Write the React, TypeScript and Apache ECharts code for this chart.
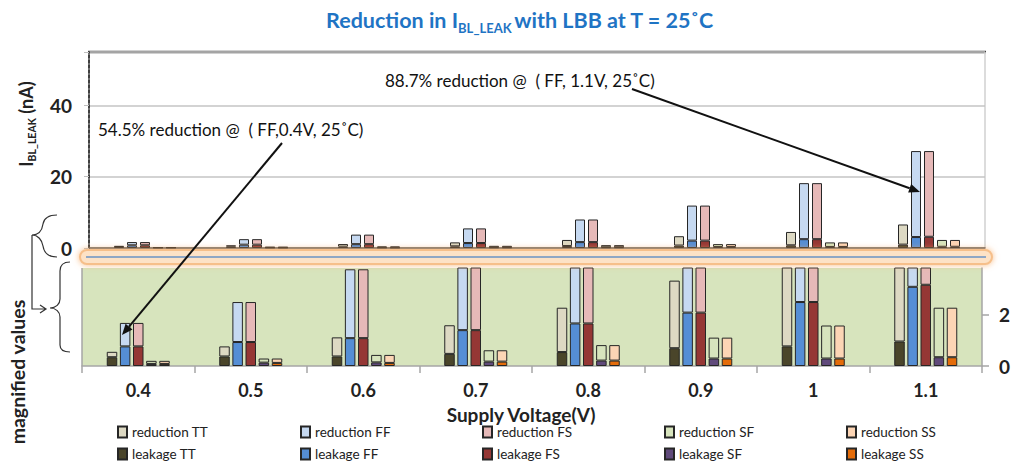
import React, { useEffect, useRef } from "react";
import * as echarts from "echarts";

// Supply voltages (x categories)
const VOLTAGES = ["0.4", "0.5", "0.6", "0.7", "0.8", "0.9", "1", "1.1"];
const CORNERS = ["TT", "FF", "FS", "SF", "SS"];

// Bit-line leakage remaining with LBB (nA)
const LEAKAGE_TT = [0.34, 0.37, 0.37, 0.47, 0.54, 0.69, 0.76, 0.95];
const LEAKAGE_FF = [0.76, 0.93, 1.08, 1.39, 1.65, 2.07, 2.48, 3.07];
const LEAKAGE_FS = [0.76, 0.93, 1.08, 1.39, 1.65, 2.07, 2.48, 3.15];
const LEAKAGE_SF = [0.08, 0.13, 0.14, 0.17, 0.21, 0.29, 0.29, 0.34];
const LEAKAGE_SS = [0.08, 0.12, 0.12, 0.17, 0.21, 0.29, 0.29, 0.34];

// Leakage removed by LBB (nA)
const REDUCTION_TT = [0.21, 0.39, 0.74, 1.11, 1.72, 2.62, 3.74, 5.65];
const REDUCTION_FF = [0.91, 1.55, 2.67, 4.11, 6.35, 9.83, 15.72, 24.13];
const REDUCTION_FS = [0.91, 1.55, 2.67, 4.11, 6.35, 9.83, 15.72, 24.05];
const REDUCTION_SF = [0.12, 0.16, 0.29, 0.44, 0.6, 0.81, 1.28, 1.92];
const REDUCTION_SS = [0.12, 0.17, 0.31, 0.44, 0.6, 0.81, 1.28, 1.92];

// Axis ticks
const UPPER_TICKS = [0, 20, 40];
const LOWER_TICKS = [0, 2];

const LEAKAGE: Record<string, number[]> = {
  TT: LEAKAGE_TT, FF: LEAKAGE_FF, FS: LEAKAGE_FS, SF: LEAKAGE_SF, SS: LEAKAGE_SS,
};
const REDUCTION: Record<string, number[]> = {
  TT: REDUCTION_TT, FF: REDUCTION_FF, FS: REDUCTION_FS, SF: REDUCTION_SF, SS: REDUCTION_SS,
};

const LEAK_COLORS: Record<string, string> = {
  TT: "#4a452a", FF: "#558ed5", FS: "#953735", SF: "#604a7b", SS: "#e46c0a",
};
const RED_COLORS: Record<string, string> = {
  TT: "#ddd9c3", FF: "#c6d9f1", FS: "#e6b9b8", SF: "#d7e4bd", SS: "#fcd5b5",
};

const FONT = "Lato";
const TEXT = "#222222";

echarts.graphic.registerShape(
  "braceUpper",
  echarts.graphic.extendPath(
    "M57,215 C48,215 44,218 43,224 C42,231 38,235 32,235 C38,235 42,240 43,246 C44,253 48,257 57,257 M32,235 L32,309 L45,309 M40,305 L46,309 L40,313",
    {}
  )
);
echarts.graphic.registerShape(
  "braceLower",
  echarts.graphic.extendPath(
    "M70,262 C64,262 60,265 60,271 L60,299 C60,304 56,308 50,308 C56,308 60,312 60,317 L60,345 C60,350 64,352 70,352",
    {}
  )
);

function arrow(x1: number, y1: number, x2: number, y2: number) {
  const ang = Math.atan2(y2 - y1, x2 - x1);
  const len = 11;
  const half = 4.5;
  const bx = x2 - len * Math.cos(ang);
  const by = y2 - len * Math.sin(ang);
  const px = -Math.sin(ang) * half;
  const py = Math.cos(ang) * half;
  return [
    {
      type: "line",
      z: 100,
      shape: { x1, y1, x2: bx, y2: by },
      style: { stroke: "#111", lineWidth: 2 },
    },
    {
      type: "polygon",
      z: 100,
      shape: { points: [[x2, y2], [bx + px, by + py], [bx - px, by - py]] },
      style: { fill: "#111" },
    },
  ];
}

function buildSeries() {
  const series: any[] = [];
  [0, 1].forEach((gi) => {
    const barWidth = gi === 0 ? 10 : 10.5;
    const barGap = gi === 0 ? "30%" : "25%";
    CORNERS.forEach((c) => {
      const common = {
        type: "bar",
        stack: `g${gi}-${c}`,
        xAxisIndex: gi,
        yAxisIndex: gi,
        barWidth,
        barGap,
        emphasis: { disabled: true },
      };
      series.push({
        ...common,
        name: `leakage ${c}`,
        data: LEAKAGE[c],
        itemStyle: { color: LEAK_COLORS[c], borderColor: "#262626", borderWidth: 1 },
      });
      series.push({
        ...common,
        name: `reduction ${c}`,
        data: REDUCTION[c],
        itemStyle: { color: RED_COLORS[c], borderColor: "#262626", borderWidth: 1 },
      });
    });
  });
  return series;
}

function buildLegends() {
  const cols = [117, 300, 482, 664, 846];
  const legends: any[] = [];
  CORNERS.forEach((c, i) => {
    [`reduction ${c}`, `leakage ${c}`].forEach((name, row) => {
      legends.push({
        data: [name],
        left: cols[i],
        top: row === 0 ? 425 : 447,
        padding: 0,
        itemWidth: 9,
        itemHeight: 11,
        itemGap: 0,
        icon: "rect",
        selectedMode: false,
        textStyle: { fontFamily: FONT, fontSize: 13.5, color: TEXT },
      });
    });
  });
  return legends;
}

export default function App() {
  const ref = useRef<HTMLDivElement>(null);

  useEffect(() => {
    if (!ref.current) return;
    const chart = echarts.init(ref.current, null, { renderer: "svg" });

    const axisLabelStyle = {
      fontFamily: FONT,
      fontWeight: "bold" as const,
      fontSize: 19,
      color: TEXT,
    };

    const option: any = {
      animation: false,
      backgroundColor: "#ffffff",
      grid: [
        { left: 89, top: 52, width: 896, height: 196, containLabel: false, outerBoundsMode: "none" },
        {
          left: 82, top: 268, width: 900, height: 98, containLabel: false, outerBoundsMode: "none",
          show: true, backgroundColor: "#d7e4bd", borderWidth: 0,
        },
      ],
      xAxis: [
        {
          type: "category",
          gridIndex: 0,
          data: VOLTAGES,
          axisLine: { lineStyle: { color: "#595959", width: 1.5 } },
          axisTick: { show: false },
          axisLabel: { show: false },
        },
        {
          type: "category",
          gridIndex: 1,
          data: VOLTAGES,
          axisLine: { lineStyle: { color: "#a6a6a6", width: 1.5 } },
          axisTick: { show: true, length: 7, lineStyle: { color: "#a6a6a6", width: 1.5 } },
          axisLabel: { ...axisLabelStyle, fontSize: 18, margin: 15 },
        },
      ],
      yAxis: [
        {
          type: "value",
          gridIndex: 0,
          min: 0,
          max: 55,
          interval: 20,
          axisLine: { show: true, lineStyle: { color: "#404040", width: 2, type: [3, 2] } },
          axisTick: { show: true, length: 5, lineStyle: { color: "#bfbfbf" } },
          axisLabel: { ...axisLabelStyle, margin: 17, customValues: UPPER_TICKS },
          splitLine: { lineStyle: { color: "#c4c4c4", width: 1.5 } },
        },
        {
          type: "value",
          gridIndex: 1,
          position: "right",
          min: 0,
          max: 3.8,
          interval: 2,
          axisLine: { show: true, lineStyle: { color: "#a6a6a6", width: 1.5 } },
          axisTick: { show: true, length: 7, customValues: LOWER_TICKS, lineStyle: { color: "#a6a6a6", width: 1.5 } },
          axisLabel: { ...axisLabelStyle, margin: 17, customValues: LOWER_TICKS },
          splitLine: { show: false },
        },
      ],
      legend: buildLegends(),
      series: buildSeries(),
      graphic: [
        // title
        {
          type: "text",
          x: 520,
          y: 20,
          style: {
            text: "{a|Reduction in I}{b|BL_LEAK}{a|with LBB at T = 25˚C}",
            textAlign: "center",
            textVerticalAlign: "middle",
            rich: {
              a: { fontFamily: FONT, fontWeight: "bold", fontSize: 21.5, fill: "#1f74c4", lineHeight: 28 },
              b: { fontFamily: FONT, fontWeight: "bold", fontSize: 13, fill: "#1f74c4", lineHeight: 13, verticalAlign: "bottom", padding: [0, 2, 0, 0] },
            },
          },
        },
        // y axis name of the upper panel
        {
          type: "text",
          x: 26,
          y: 124,
          rotation: Math.PI / 2,
          style: {
            text: "{a|I}{b|BL_LEAK}{a| (nA)}",
            textAlign: "center",
            textVerticalAlign: "middle",
            rich: {
              a: { fontFamily: FONT, fontWeight: "bold", fontSize: 18, fill: TEXT, lineHeight: 22 },
              b: { fontFamily: FONT, fontWeight: "bold", fontSize: 10.5, fill: TEXT, lineHeight: 10, verticalAlign: "bottom" },
            },
          },
        },
        // label for the zoomed-in panel
        {
          type: "text",
          x: 17,
          y: 372,
          rotation: Math.PI / 2,
          style: {
            text: "magnified values",
            textAlign: "center",
            textVerticalAlign: "middle",
            fontFamily: FONT,
            fontWeight: "bold",
            fontSize: 19.5,
            fill: TEXT,
          },
        },
        {
          type: "text",
          x: 521,
          y: 414,
          style: {
            text: "Supply Voltage(V)",
            textAlign: "center",
            textVerticalAlign: "middle",
            fontFamily: FONT,
            fontWeight: "bold",
            fontSize: 19,
            fill: TEXT,
          },
        },
        // panel frame lines
        {
          type: "line",
          shape: { x1: 88, y1: 52, x2: 986, y2: 52 },
          style: { stroke: "#444", lineWidth: 2.5 },
        },
        {
          type: "line",
          shape: { x1: 985, y1: 52, x2: 985, y2: 248 },
          style: { stroke: "#d0d0d0", lineWidth: 1.5 },
        },
        {
          type: "line",
          shape: { x1: 82, y1: 268, x2: 82, y2: 366 },
          style: { stroke: "#a6a6a6", lineWidth: 1.5 },
        },
        // break band between the panels
        {
          type: "rect",
          z: 50,
          shape: { x: 80, y: 250, width: 912, height: 14, r: 7 },
          style: { fill: "#fde2c6", stroke: "#f6bf8a", lineWidth: 2, shadowBlur: 6, shadowColor: "rgba(246,170,100,0.8)" },
        },
        {
          type: "line",
          z: 51,
          shape: { x1: 86, y1: 257, x2: 986, y2: 257 },
          style: { stroke: "#6a93c4", lineWidth: 1.5 },
        },
        // braces linking the two panels
        {
          type: "braceUpper",
          x: 0,
          y: 0,
          style: { fill: "none", stroke: "#333", lineWidth: 1.2 },
        },
        {
          type: "braceLower",
          x: 0,
          y: 0,
          style: { fill: "none", stroke: "#333", lineWidth: 1.2 },
        },
        // annotations
        {
          type: "text",
          x: 98,
          y: 129,
          z: 100,
          style: {
            text: "54.5% reduction @  ( FF,0.4V, 25˚C)",
            textVerticalAlign: "middle",
            fontFamily: FONT,
            fontSize: 17,
            fill: "#111",
          },
        },
        ...arrow(282, 143, 122, 335),
        {
          type: "text",
          x: 385,
          y: 80,
          z: 100,
          style: {
            text: "88.7% reduction @  ( FF, 1.1V, 25˚C)",
            textVerticalAlign: "middle",
            fontFamily: FONT,
            fontSize: 17,
            fill: "#111",
          },
        },
        ...arrow(632, 89, 920, 192),
      ],
    };

    chart.setOption(option);
    return () => chart.dispose();
  }, []);

  return (
    <div
      ref={ref}
      style={{ position: "absolute", left: 0, top: 0, width: 1020, height: 470 }}
    />
  );
}
